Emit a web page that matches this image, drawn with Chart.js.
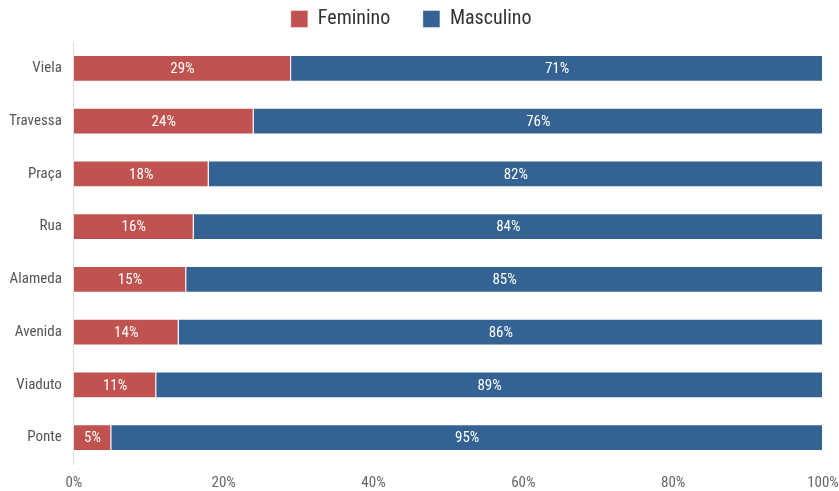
<!DOCTYPE html>
<html>
<head>
<meta charset="utf-8">
<script src="https://cdn.jsdelivr.net/npm/chart.js@4"></script>
<style>
  body { margin: 0; background: #fff; }
  #wrap { width: 839px; height: 491px; }
</style>
</head>
<body>
<div id="wrap"><canvas id="barChart"></canvas></div>
<script>
const categorias = ['Viela', 'Travessa', 'Praça', 'Rua', 'Alameda', 'Avenida', 'Viaduto', 'Ponte'];
const feminino = [29, 24, 18, 16, 15, 14, 11, 5];
const masculino = [71, 76, 82, 84, 85, 86, 89, 95];
const ticksX = [0, 20, 40, 60, 80, 100];

const fonte = '"Roboto Condensed", "Liberation Sans Narrow", "DejaVu Sans Condensed", Roboto, sans-serif';

// rótulos dentro das barras
const rotulos = {
  id: 'rotulos',
  afterDatasetsDraw(chart) {
    const c = chart.ctx;
    c.save();
    c.fillStyle = '#fff';
    c.font = '15px ' + fonte;
    c.textAlign = 'center';
    c.textBaseline = 'middle';
    chart.data.datasets.forEach((ds, i) => {
      chart.getDatasetMeta(i).data.forEach((bar, j) => {
        c.fillText(ds.data[j] + '%', (bar.x + bar.base) / 2, bar.y + 1);
      });
    });
    c.restore();
  }
};

// legenda um pouco mais alta
const alturaLegenda = {
  id: 'alturaLegenda',
  beforeInit(chart) {
    const fit = chart.legend.fit;
    chart.legend.fit = function () {
      fit.call(this);
      this.height = 42;
    };
  }
};

new Chart(document.getElementById('barChart'), {
  type: 'bar',
  data: {
    labels: categorias,
    datasets: [
      { label: 'Feminino', data: feminino, backgroundColor: '#C0534F', borderColor: 'rgba(255,255,255,0.4)', borderWidth: 1 },
      { label: 'Masculino', data: masculino, backgroundColor: '#346393', borderColor: 'rgba(255,255,255,0.4)', borderWidth: 1 }
    ]
  },
  options: {
    indexAxis: 'y',
    responsive: true,
    maintainAspectRatio: false,
    animation: false,
    barPercentage: 0.51,
    categoryPercentage: 1,
    layout: { padding: { left: -3, right: 0, top: 0, bottom: 0 } },
    plugins: {
      tooltip: { enabled: false },
      legend: {
        position: 'top',
        labels: {
          boxWidth: 17, boxHeight: 17, padding: 9,
          color: '#333',
          font: { family: fonte, size: 20 },
          generateLabels(chart) {
            const extra = ['\u2003\u2004', '\u2002\u2005'];
            return Chart.defaults.plugins.legend.labels.generateLabels(chart)
              .map((l, i) => Object.assign(l, { text: l.text + extra[i] }));
          }
        }
      }
    },
    scales: {
      x: {
        stacked: true,
        min: 0, max: 100,
        afterBuildTicks: s => { s.ticks = ticksX.map(v => ({ value: v })); },
        afterFit: s => { s.height = 27; s.paddingRight = 16; },
        grid: { display: false, drawTicks: false },
        border: { display: false },
        ticks: { color: '#666', font: { family: fonte, size: 15 }, padding: 10, callback: v => v + '%' }
      },
      y: {
        stacked: true,
        grid: { display: false, drawTicks: false },
        border: { display: true, color: '#ddd' },
        ticks: { color: '#555', font: { family: fonte, size: 15 }, padding: 12 }
      }
    }
  },
  plugins: [rotulos, alturaLegenda]
});
</script>
</body>
</html>
